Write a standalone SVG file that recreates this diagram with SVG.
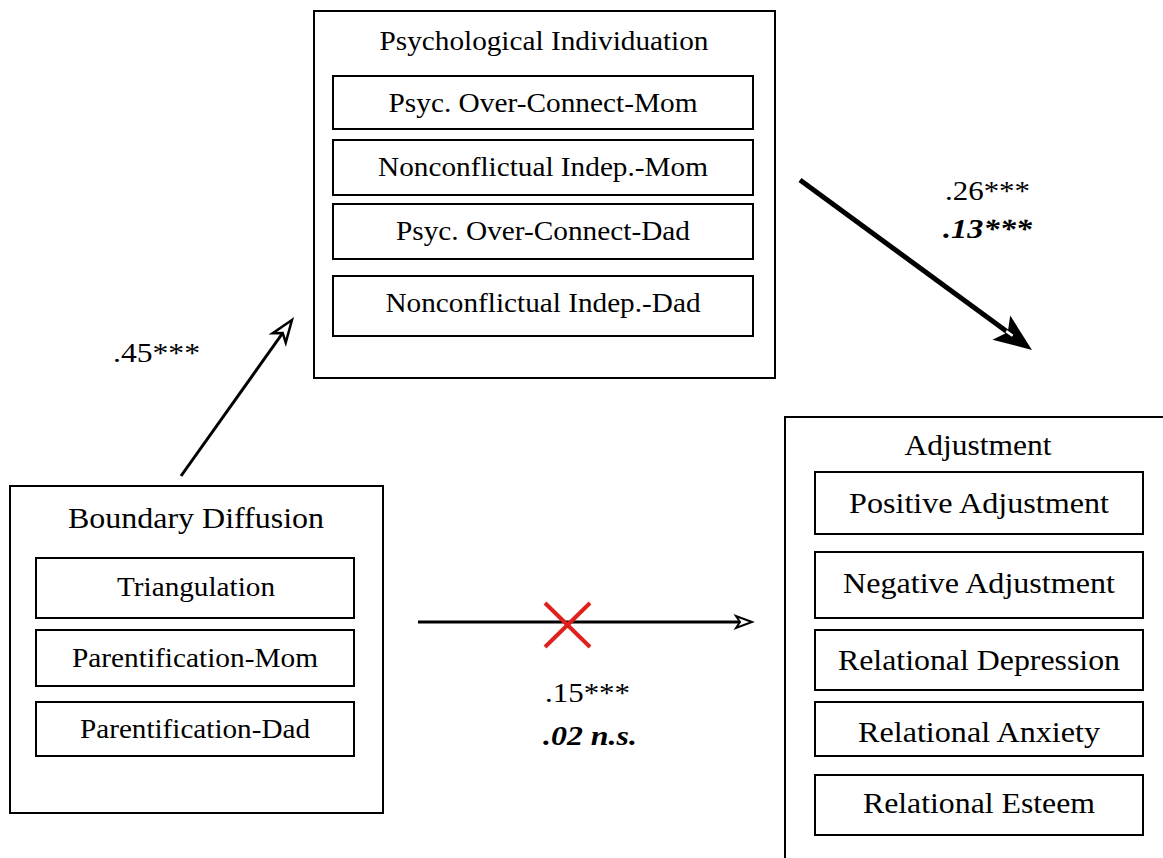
<svg xmlns="http://www.w3.org/2000/svg" width="1163" height="858" viewBox="0 0 1163 858">
<style>
text{font-family:"Liberation Serif","Times New Roman",serif;font-size:28px;fill:#000;text-anchor:middle}
.big{font-size:29.5px}
.lab{font-size:28px}
.box{fill:#fff;stroke:#000;stroke-width:2}
.bi{font-weight:bold;font-style:italic}
.conn{fill:none;stroke:#000;stroke-width:3}
</style>
<defs>
<marker id="head1" markerUnits="userSpaceOnUse" markerWidth="40" markerHeight="40" refX="2" refY="0" orient="auto" overflow="visible" viewBox="-10 -20 40 40">
<path d="M18,0 L-4,-8 L2,0 L-4,8 Z" fill="#fff" stroke="#000" stroke-width="2.5"/>
</marker>
<marker id="head2" markerUnits="userSpaceOnUse" markerWidth="60" markerHeight="60" refX="0" refY="0" orient="auto" overflow="visible" viewBox="-20 -30 60 60">
<path d="M30,0 L-8,-15 L0,0 L-8,15 Z" fill="#000"/>
<path d="M-2,0 L6,0" stroke="#fff" stroke-width="2.5"/>
</marker>
<marker id="head3" markerUnits="userSpaceOnUse" markerWidth="30" markerHeight="30" refX="2" refY="0" orient="auto" overflow="visible" viewBox="-10 -15 30 30">
<path d="M14,0 L-2,-6 L2,0 L-2,6 Z" fill="#fff" stroke="#000" stroke-width="2"/>
</marker>
</defs>
<rect width="1163" height="858" fill="#fff"/>

<g id="psych-individuation">
<rect class="box" x="314" y="11" width="461" height="367"/>
<text x="544" y="50" textLength="329" lengthAdjust="spacingAndGlyphs">Psychological Individuation</text>
<rect class="box" x="333" y="76" width="420" height="53"/>
<text x="543" y="112" textLength="309" lengthAdjust="spacingAndGlyphs">Psyc. Over-Connect-Mom</text>
<rect class="box" x="333" y="140" width="420" height="55"/>
<text x="543" y="176" textLength="330" lengthAdjust="spacingAndGlyphs">Nonconflictual Indep.-Mom</text>
<rect class="box" x="333" y="204" width="420" height="55"/>
<text x="543" y="240" textLength="294" lengthAdjust="spacingAndGlyphs">Psyc. Over-Connect-Dad</text>
<rect class="box" x="333" y="276" width="420" height="60"/>
<text x="543" y="312" textLength="315" lengthAdjust="spacingAndGlyphs">Nonconflictual Indep.-Dad</text>
</g>

<g id="boundary-diffusion">
<rect class="box" x="10" y="486" width="373" height="327"/>
<text class="big" x="196" y="528" textLength="256" lengthAdjust="spacingAndGlyphs">Boundary Diffusion</text>
<rect class="box" x="36" y="558" width="318" height="60"/>
<text x="196" y="596" textLength="158" lengthAdjust="spacingAndGlyphs">Triangulation</text>
<rect class="box" x="36" y="630" width="318" height="56"/>
<text x="195" y="667" textLength="246" lengthAdjust="spacingAndGlyphs">Parentification-Mom</text>
<rect class="box" x="36" y="702" width="318" height="54"/>
<text x="195" y="738" textLength="230" lengthAdjust="spacingAndGlyphs">Parentification-Dad</text>
</g>

<g id="adjustment">
<path d="M785,858 L785,417 L1163,417" fill="none" stroke="#000" stroke-width="2"/>
<text class="big" x="978" y="455" textLength="147" lengthAdjust="spacingAndGlyphs">Adjustment</text>
<rect class="box" x="815" y="472" width="328" height="62"/>
<text class="big" x="979" y="513" textLength="260" lengthAdjust="spacingAndGlyphs">Positive Adjustment</text>
<rect class="box" x="815" y="552" width="328" height="66"/>
<text class="big" x="979" y="593" textLength="272" lengthAdjust="spacingAndGlyphs">Negative Adjustment</text>
<rect class="box" x="815" y="630" width="328" height="60"/>
<text class="big" x="979" y="670" textLength="282" lengthAdjust="spacingAndGlyphs">Relational Depression</text>
<rect class="box" x="815" y="702" width="328" height="54"/>
<text class="big" x="979" y="742" textLength="242" lengthAdjust="spacingAndGlyphs">Relational Anxiety</text>
<rect class="box" x="815" y="775" width="328" height="60"/>
<text class="big" x="979" y="813" textLength="232" lengthAdjust="spacingAndGlyphs">Relational Esteem</text>
</g>

<g id="connectors">
<line class="conn" x1="181" y1="476" x2="282.7" y2="333" marker-end="url(#head1)"/>
<line class="conn" x1="800" y1="180" x2="1007.8" y2="332.3" style="stroke-width:5" marker-end="url(#head2)"/>
<line class="conn" x1="418" y1="622" x2="740" y2="622" marker-end="url(#head3)"/>
<g stroke="#e0201c" stroke-width="4">
<line x1="545" y1="603" x2="590" y2="647"/>
<line x1="545" y1="647" x2="590" y2="603"/>
</g>
</g>

<g id="labels">
<text class="lab" x="156.5" y="362" textLength="87" lengthAdjust="spacingAndGlyphs">.45***</text>
<text class="lab" x="987.5" y="200" textLength="85" lengthAdjust="spacingAndGlyphs">.26***</text>
<text class="lab bi" x="987.5" y="238" textLength="89" lengthAdjust="spacingAndGlyphs">.13***</text>
<text class="lab" x="587.5" y="702" textLength="85" lengthAdjust="spacingAndGlyphs">.15***</text>
<text class="lab bi" x="590" y="745" textLength="94" lengthAdjust="spacingAndGlyphs">.02 n.s.</text>
</g>
</svg>
